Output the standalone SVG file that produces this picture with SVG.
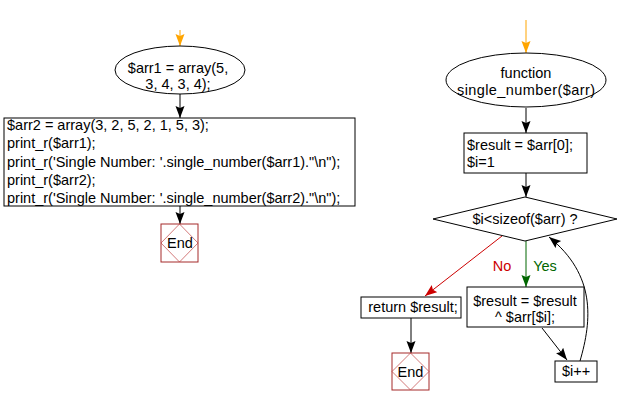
<svg xmlns="http://www.w3.org/2000/svg" width="620" height="406" viewBox="0 0 620 406">
<style>
text{font-family:"Liberation Sans",Arial,sans-serif;font-size:14.5px;fill:#000}
.c{text-anchor:middle}
.shape{fill:#fff;stroke:#000;stroke-width:1}
.endbox{fill:#fff;stroke:#a52a2a;stroke-width:1}
.endd{fill:none;stroke:#c04040;stroke-width:0.7}
.ln{fill:none;stroke:#000;stroke-width:1}
</style>
<defs>
<marker id="ab" markerUnits="userSpaceOnUse" markerWidth="13" markerHeight="10" refX="12" refY="4.5" orient="auto"><path d="M0,0 L12,4.5 L0,9 L2,4.5 z" fill="#000"/></marker>
<marker id="ao" markerUnits="userSpaceOnUse" markerWidth="13" markerHeight="10" refX="12" refY="4.5" orient="auto"><path d="M0,0 L12,4.5 L0,9 L2,4.5 z" fill="#ffa500"/></marker>
<marker id="ar" markerUnits="userSpaceOnUse" markerWidth="13" markerHeight="10" refX="12" refY="4.5" orient="auto"><path d="M0,0 L12,4.5 L0,9 L2,4.5 z" fill="#cc0000"/></marker>
<marker id="ag" markerUnits="userSpaceOnUse" markerWidth="13" markerHeight="10" refX="12" refY="4.5" orient="auto"><path d="M0,0 L12,4.5 L0,9 L2,4.5 z" fill="#006600"/></marker>
</defs>
<g id="connectors">
<path d="M180,30 L180,46" stroke="#ffa500" stroke-width="1" fill="none" marker-end="url(#ao)"/>
<path class="ln" d="M180,94 L180,118" marker-end="url(#ab)"/>
<path class="ln" d="M180,206 L180,224" marker-end="url(#ab)"/>
<path d="M526,20 L526,53" stroke="#ffa500" stroke-width="1" fill="none" marker-end="url(#ao)"/>
<path class="ln" d="M526,108 L526,133" marker-end="url(#ab)"/>
<path class="ln" d="M526,173 L526,197" marker-end="url(#ab)"/>
<path d="M526,241 L526,287" stroke="#006600" stroke-width="1" fill="none" marker-end="url(#ag)"/>
<path d="M502,236 L425,296" stroke="#cc0000" stroke-width="1" fill="none" marker-end="url(#ar)"/>
<path class="ln" d="M542,328 L567,360" marker-end="url(#ab)"/>
<path class="ln" d="M411,318 L411,353" marker-end="url(#ab)"/>
<path class="ln" d="M580,361 C592,320 596,275 549,237" marker-end="url(#ab)"/>
<text x="502" y="271" class="c" style="fill:#cc0000">No</text>
<text x="545" y="271" class="c" style="fill:#006600">Yes</text>
</g>
<g id="start1">
<ellipse class="shape" cx="180" cy="70" rx="65" ry="24"/>
<text x="178" y="73" class="c">$arr1 = array(5,</text>
<text x="178" y="89" class="c">3, 4, 3, 4);</text>
</g>
<g id="main">
<rect class="shape" x="4" y="118" width="351" height="88"/>
<text x="7" y="130">$arr2 = array(3, 2, 5, 2, 1, 5, 3);</text>
<text x="7" y="148">print_r($arr1);</text>
<text x="7" y="167">print_r('Single Number: '.single_number($arr1)."\n");</text>
<text x="7" y="185">print_r($arr2);</text>
<text x="7" y="203">print_r('Single Number: '.single_number($arr2)."\n");</text>
</g>
<g id="end1">
<rect class="endbox" x="161" y="224" width="37" height="38"/>
<path class="endd" d="M179.5,224 L198,243 L179.5,262 L161,243 z"/>
<text x="180" y="248" class="c">End</text>
</g>
<g id="func">
<ellipse class="shape" cx="526" cy="80" rx="80" ry="27"/>
<text x="526" y="78" class="c">function</text>
<text x="526" y="95" class="c" textLength="138" lengthAdjust="spacing">single_number($arr)</text>
</g>
<g id="init">
<rect class="shape" x="464" y="133" width="123" height="40"/>
<text x="467" y="150">$result = $arr[0];</text>
<text x="467" y="167">$i=1</text>
</g>
<g id="cond">
<path class="shape" d="M525,197 L617,219 L525,241 L433,219 z"/>
<text x="525" y="224" class="c">$i&lt;sizeof($arr) ?</text>
</g>
<g id="ret">
<rect class="shape" x="361" y="297" width="100" height="21"/>
<text x="413" y="312" class="c">return $result;</text>
</g>
<g id="end2">
<rect class="endbox" x="392" y="353" width="37" height="37"/>
<path class="endd" d="M410.5,353 L429,371.5 L410.5,390 L392,371.5 z"/>
<text x="410.5" y="377" class="c">End</text>
</g>
<g id="xor">
<rect class="shape" x="467" y="287" width="117" height="40"/>
<text x="525" y="306" class="c">$result = $result</text>
<text x="525" y="322" class="c">^ $arr[$i];</text>
</g>
<g id="inc">
<rect class="shape" x="555" y="361" width="42" height="21"/>
<text x="576" y="376" class="c">$i++</text>
</g>
</svg>
